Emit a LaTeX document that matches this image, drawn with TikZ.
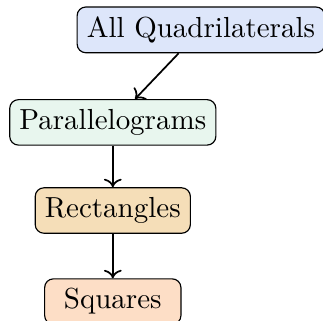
\documentclass[tikz,border=0pt]{standalone}
\usepackage{tikz}
\usetikzlibrary{arrows.meta,positioning}
\usepackage{xcolor}
\definecolor{quadblue}{RGB}{221,230,250}
\definecolor{paragreen}{RGB}{232,246,238}
\definecolor{recttan}{RGB}{245,222,184}
\definecolor{sqpeach}{RGB}{253,222,198}

\begin{document}
\begin{tikzpicture}[
  shapebox/.style={draw,rounded corners=3pt,align=center}]

  % ── bounding box (reference margins) ───────────────────────────
  \useasboundingbox (0,0) rectangle (111.4pt,-110.7pt);

  % top
  \node[shapebox,fill=quadblue] (quad) at (69.3pt,-10.3pt) {All Quadrilaterals};

  % chain below
  \node[shapebox,fill=paragreen] (para) at (38.9pt,-42.2pt) {Parallelograms};
  \node[shapebox,fill=recttan] (rect) at (38.9pt,-72.6pt) {Rectangles};
  \node[shapebox,fill=sqpeach,minimum width=47pt] (sq) at (38.9pt,-104pt) {Squares};

  % arrows
  \draw[->,semithick] (quad)--(para);
  \draw[->,semithick] (para)--(rect);
  \draw[->,semithick] (rect)--(sq);

\end{tikzpicture}
\end{document}
